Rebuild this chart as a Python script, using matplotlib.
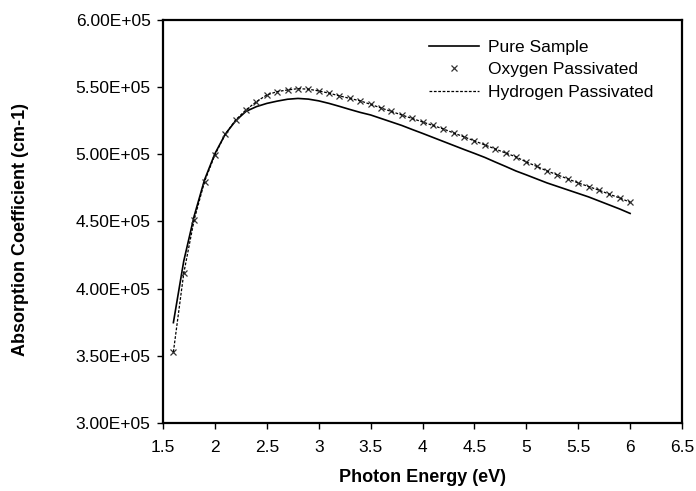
import matplotlib
matplotlib.use('Agg')
import matplotlib.pyplot as plt
from matplotlib.ticker import FuncFormatter, MultipleLocator

plt.rcParams['font.family'] = ['Liberation Sans', 'DejaVu Sans']

# photon energy (eV)
energy = [1.6, 1.7, 1.8, 1.9, 2.0, 2.1, 2.2, 2.3, 2.4, 2.5,
          2.6, 2.7, 2.8, 2.9, 3.0, 3.1, 3.2, 3.3, 3.4, 3.5,
          3.6, 3.7, 3.8, 3.9, 4.0, 4.1, 4.2, 4.3, 4.4, 4.5,
          4.6, 4.7, 4.8, 4.9, 5.0, 5.1, 5.2, 5.3, 5.4, 5.5,
          5.6, 5.7, 5.8, 5.9, 6.0]

# absorption coefficient (x1e5 cm-1)
pure = [3.747, 4.206, 4.540, 4.810, 5.005, 5.150, 5.250, 5.320, 5.355, 5.379,
        5.396, 5.410, 5.416, 5.411, 5.398, 5.379, 5.357, 5.334, 5.312, 5.293,
        5.267, 5.241, 5.215, 5.185, 5.156, 5.126, 5.096, 5.066, 5.036, 5.007,
        4.977, 4.943, 4.910, 4.876, 4.847, 4.817, 4.787, 4.761, 4.735, 4.709,
        4.683, 4.653, 4.623, 4.593, 4.560]

oxygen = [3.529, 4.115, 4.512, 4.797, 4.996, 5.150, 5.256, 5.331, 5.392, 5.442,
          5.467, 5.479, 5.489, 5.485, 5.472, 5.455, 5.435, 5.416, 5.398, 5.372,
          5.345, 5.319, 5.293, 5.267, 5.241, 5.215, 5.189, 5.159, 5.130, 5.100,
          5.070, 5.040, 5.010, 4.981, 4.943, 4.910, 4.876, 4.847, 4.817, 4.787,
          4.760, 4.733, 4.703, 4.675, 4.643]

hydrogen = [3.529, 4.115, 4.512, 4.797, 4.996, 5.150, 5.256, 5.331, 5.392, 5.442,
            5.467, 5.479, 5.489, 5.485, 5.472, 5.455, 5.435, 5.416, 5.398, 5.372,
            5.345, 5.319, 5.293, 5.267, 5.241, 5.215, 5.189, 5.159, 5.130, 5.100,
            5.070, 5.040, 5.010, 4.981, 4.943, 4.910, 4.876, 4.847, 4.817, 4.787,
            4.760, 4.733, 4.703, 4.675, 4.643]

scale = 1e5

fig = plt.figure(figsize=(6.96, 4.91), dpi=100)
ax = fig.add_axes([0.2342, 0.1385, 0.7457, 0.8208])

ax.plot(energy, [v * scale for v in pure], color='black', lw=1.2, label='Pure Sample')
ax.plot(energy, [v * scale for v in oxygen], linestyle='none', marker='x', ms=5,
        mew=0.9, color='#333333', label='Oxygen Passivated')
ax.plot(energy, [v * scale for v in hydrogen], color='black', lw=0.9,
        linestyle=(0, (2.2, 1.3)), label='Hydrogen Passivated')

ax.set_xlim(1.5, 6.5)
ax.set_ylim(3.0e5, 6.0e5)
ax.xaxis.set_major_locator(MultipleLocator(0.5))
ax.yaxis.set_major_locator(MultipleLocator(0.5e5))
ax.xaxis.set_major_formatter(FuncFormatter(lambda v, p: ('%g' % v)))
ax.yaxis.set_major_formatter(FuncFormatter(lambda v, p: ('%.2E' % v)))

for s in ax.spines.values():
    s.set_linewidth(1.6)
ax.tick_params(direction='out', length=4, width=1, labelsize=12.5, pad=5)
ax.tick_params(axis='x', pad=8)

ax.set_xlabel('Photon Energy (eV)', fontsize=13, fontweight='bold')
ax.set_ylabel('Absorption Coefficient (cm-1)', fontsize=13, fontweight='bold')
ax.xaxis.set_label_coords(0.5, -0.115)
ax.yaxis.set_label_coords(-0.258, 0.48)

ax.legend(loc='upper right', bbox_to_anchor=(0.975, 0.99), frameon=False, fontsize=12.5,
          handlelength=2.9, handletextpad=0.5, labelspacing=0.42)

fig.savefig('out.png', dpi=100)
